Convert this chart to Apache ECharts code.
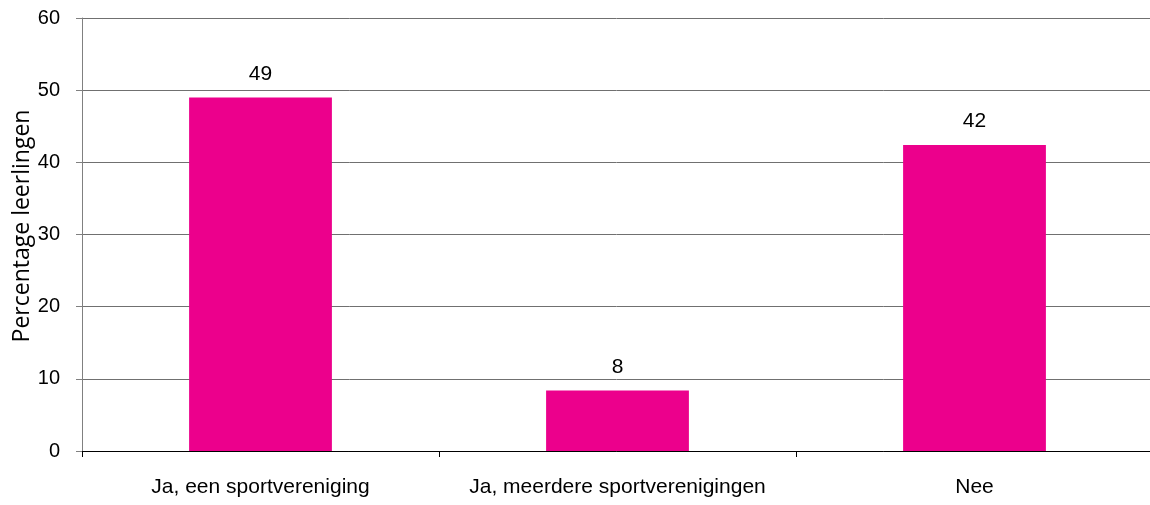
<!DOCTYPE html>
<html>
<head>
<meta charset="utf-8">
<script src="https://cdn.jsdelivr.net/npm/echarts@6/dist/echarts.min.js"></script>
<style>html,body{margin:0;padding:0;background:#fff;}#c{width:1150px;height:505px;}</style>
</head>
<body>
<div id="c"></div>
<script>
var categories = ['Ja, een sportvereniging', 'Ja, meerdere sportverenigingen', 'Nee'];
var values = [49.0, 8.4, 42.4];
var valueLabels = ['49', '8', '42'];
var yTicks = [0, 10, 20, 30, 40, 50, 60];

var chart = echarts.init(document.getElementById('c'), null, {renderer: 'canvas'});
chart.setOption({
  animation: false,
  backgroundColor: '#ffffff',
  grid: {left: 82, top: 18, width: 1071, height: 433, containLabel: false, outerBoundsMode: 'none'},
  xAxis: {
    type: 'category',
    data: categories,
    axisLine: {lineStyle: {color: '#000000', width: 1}},
    axisTick: {show: true, inside: false, length: 6, alignWithLabel: false, lineStyle: {color: '#000000'}},
    axisLabel: {color: '#000000', fontFamily: 'Liberation Sans, Arial, sans-serif', fontSize: 21, margin: 26, interval: 0}
  },
  yAxis: {
    type: 'value',
    min: 0, max: 60, interval: 10,
    name: 'Percentage leerlingen',
    nameLocation: 'middle',
    nameGap: 48,
    nameMoveOverlap: false,
    nameTextStyle: {color: '#000000', fontFamily: 'Open Sans, Noto Sans, sans-serif', fontSize: 23, padding: [0, 0, 0, 17]},
    axisLine: {show: true, lineStyle: {color: '#808080', width: 1}},
    axisTick: {show: true, inside: false, length: 6, lineStyle: {color: '#808080'}},
    axisLabel: {color: '#000000', fontFamily: 'Liberation Sans, Arial, sans-serif', fontSize: 20, margin: 22,
      formatter: function (v) { return yTicks.indexOf(v) >= 0 ? String(v) : ''; }},
    splitLine: {show: true, lineStyle: {color: '#707070', width: 1}}
  },
  series: [{
    type: 'bar',
    data: values,
    barWidth: '40%',
    itemStyle: {color: '#EC008C'},
    label: {
      show: true, position: 'top', distance: 13,
      color: '#000000', fontFamily: 'Liberation Sans, Arial, sans-serif', fontSize: 21,
      formatter: function (p) { return valueLabels[p.dataIndex]; }
    }
  }]
});
</script>
</body>
</html>
